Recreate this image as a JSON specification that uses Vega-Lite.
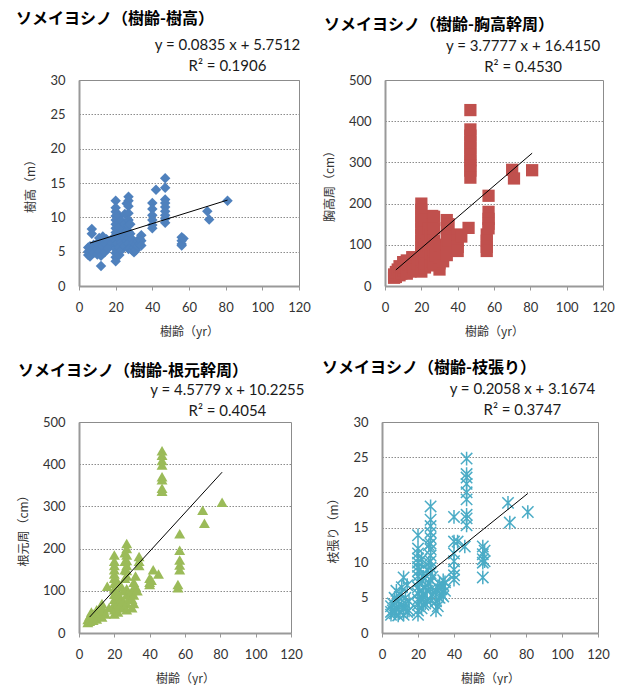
{
  "$schema": "https://vega.github.io/schema/vega-lite/v6.json",
  "padding": {"left": 15, "top": 10, "right": 0, "bottom": 0},
  "background": "white",
  "spacing": 21,
  "config": {
    "view": {"stroke": "#8c8c8c", "strokeWidth": 1},
    "title": {"font": "Noto Sans CJK JP", "fontSize": 16, "fontWeight": "bold", "color": "#000000", "anchor": "start", "frame": "group", "offset": 8},
    "axisX": {"domainColor": "#999999", "domainWidth": 2, "tickColor": "#999999", "tickSize": 4, "labelPadding": 11, "grid": false, "values": [0, 20, 40, 60, 80, 100, 120], "labelFont": "Lato", "labelFontSize": 13, "labelColor": "#333333", "titleFont": "Noto Sans CJK JP", "titleFontSize": 12, "titleFontWeight": "normal", "titlePadding": 12, "titleColor": "#333333", "labelFlush": false, "labelOverlap": false},
    "axisY": {"domainColor": "#999999", "domainWidth": 2, "ticks": false, "labelPadding": 14, "grid": true, "gridColor": "#8c8c8c", "gridDash": [1.5, 1.5], "gridWidth": 1, "labelFont": "Lato", "labelFontSize": 13, "labelColor": "#333333", "titleFont": "Noto Sans CJK JP", "titleFontSize": 12, "titleFontWeight": "normal", "titlePadding": 12, "titleColor": "#333333", "labelFlush": false, "labelOverlap": false}
  },
  "datasets": {
    "d_height": [
      {"age": 5, "v": 4.5}, {"age": 5, "v": 5.0}, {"age": 5, "v": 5.6}, {"age": 6, "v": 4.3}, {"age": 6, "v": 5.8}, {"age": 7, "v": 5.2}, {"age": 7, "v": 8.3}, {"age": 7, "v": 7.6}, {"age": 8, "v": 4.8}, {"age": 8, "v": 6.0}, {"age": 9, "v": 5.5}, {"age": 10, "v": 4.6}, {"age": 10, "v": 5.4}, {"age": 10, "v": 6.2}, {"age": 11, "v": 5.0}, {"age": 11, "v": 7.0}, {"age": 12, "v": 4.4}, {"age": 12, "v": 6.5}, {"age": 12, "v": 2.9}, {"age": 13, "v": 5.8}, {"age": 13, "v": 7.2}, {"age": 14, "v": 4.9}, {"age": 15, "v": 6.0}, {"age": 15, "v": 6.8}, {"age": 16, "v": 5.5}, {"age": 18, "v": 6.3}, {"age": 19, "v": 7.1},
      {"age": 20, "v": 12.4}, {"age": 20, "v": 11.4}, {"age": 20, "v": 10.8}, {"age": 20, "v": 10.2}, {"age": 20, "v": 9.6}, {"age": 20, "v": 9.0}, {"age": 20, "v": 8.4}, {"age": 20, "v": 7.8}, {"age": 20, "v": 7.2}, {"age": 20, "v": 6.6}, {"age": 20, "v": 6.0}, {"age": 20, "v": 5.4}, {"age": 20, "v": 4.8}, {"age": 20, "v": 4.2}, {"age": 20, "v": 3.6},
      {"age": 21, "v": 9.0}, {"age": 21, "v": 7.5}, {"age": 21, "v": 6.2}, {"age": 21, "v": 5.0},
      {"age": 22, "v": 10.2}, {"age": 22, "v": 8.6}, {"age": 22, "v": 6.9}, {"age": 22, "v": 5.6}, {"age": 22, "v": 4.5},
      {"age": 23, "v": 9.5}, {"age": 23, "v": 7.8}, {"age": 23, "v": 6.3}, {"age": 23, "v": 5.2},
      {"age": 24, "v": 8.2}, {"age": 24, "v": 6.0},
      {"age": 25, "v": 10.5}, {"age": 25, "v": 9.0}, {"age": 25, "v": 7.0}, {"age": 25, "v": 5.8},
      {"age": 26, "v": 12.0}, {"age": 26, "v": 8.0}, {"age": 26, "v": 6.5},
      {"age": 27, "v": 13.0}, {"age": 27, "v": 12.4}, {"age": 27, "v": 11.6}, {"age": 27, "v": 10.6}, {"age": 27, "v": 9.6}, {"age": 27, "v": 8.8}, {"age": 27, "v": 7.9}, {"age": 27, "v": 7.0}, {"age": 27, "v": 6.2}, {"age": 27, "v": 5.4},
      {"age": 28, "v": 9.0}, {"age": 28, "v": 7.6}, {"age": 28, "v": 5.5},
      {"age": 29, "v": 6.8}, {"age": 29, "v": 5.2},
      {"age": 30, "v": 4.9}, {"age": 30, "v": 5.6}, {"age": 30, "v": 6.3},
      {"age": 31, "v": 5.2}, {"age": 31, "v": 6.0},
      {"age": 32, "v": 6.5}, {"age": 32, "v": 5.8},
      {"age": 33, "v": 6.9}, {"age": 33, "v": 6.1},
      {"age": 34, "v": 7.4}, {"age": 34, "v": 6.6}, {"age": 34, "v": 5.9},
      {"age": 40, "v": 12.1}, {"age": 40, "v": 11.2}, {"age": 40, "v": 10.3}, {"age": 40, "v": 9.6}, {"age": 40, "v": 8.9}, {"age": 40, "v": 8.4},
      {"age": 42, "v": 14.0},
      {"age": 47, "v": 15.7}, {"age": 47, "v": 14.3}, {"age": 47, "v": 12.6}, {"age": 47, "v": 12.1}, {"age": 47, "v": 11.5}, {"age": 47, "v": 10.9}, {"age": 47, "v": 10.3}, {"age": 47, "v": 9.8}, {"age": 47, "v": 9.2},
      {"age": 56, "v": 7.1}, {"age": 56, "v": 6.6}, {"age": 56, "v": 6.1}, {"age": 56, "v": 5.9}, {"age": 57, "v": 6.9},
      {"age": 70, "v": 10.9}, {"age": 71, "v": 9.7}, {"age": 81, "v": 12.4}
    ],
    "d_height_fit": [{"age": 6, "v": 6.2522}, {"age": 81, "v": 12.5147}],
    "d_chest": [
      {"age": 5, "v": 20}, {"age": 5, "v": 28}, {"age": 6, "v": 22}, {"age": 6, "v": 34}, {"age": 7, "v": 40}, {"age": 8, "v": 26}, {"age": 8, "v": 48}, {"age": 9, "v": 30}, {"age": 10, "v": 38}, {"age": 10, "v": 58}, {"age": 11, "v": 45}, {"age": 12, "v": 30}, {"age": 12, "v": 62}, {"age": 13, "v": 52}, {"age": 14, "v": 35}, {"age": 15, "v": 70}, {"age": 15, "v": 48}, {"age": 16, "v": 40}, {"age": 18, "v": 55},
      {"age": 20, "v": 200}, {"age": 20, "v": 185}, {"age": 20, "v": 170}, {"age": 20, "v": 155}, {"age": 20, "v": 140}, {"age": 20, "v": 125}, {"age": 20, "v": 110}, {"age": 20, "v": 95}, {"age": 20, "v": 80}, {"age": 20, "v": 65}, {"age": 20, "v": 50}, {"age": 20, "v": 35},
      {"age": 21, "v": 120}, {"age": 21, "v": 90}, {"age": 21, "v": 60},
      {"age": 22, "v": 160}, {"age": 22, "v": 130}, {"age": 22, "v": 100}, {"age": 22, "v": 70}, {"age": 22, "v": 45},
      {"age": 23, "v": 110}, {"age": 23, "v": 80}, {"age": 23, "v": 55},
      {"age": 24, "v": 140}, {"age": 24, "v": 95},
      {"age": 25, "v": 125}, {"age": 25, "v": 75}, {"age": 25, "v": 50},
      {"age": 26, "v": 170}, {"age": 26, "v": 150}, {"age": 26, "v": 120}, {"age": 26, "v": 90}, {"age": 26, "v": 60},
      {"age": 27, "v": 168}, {"age": 27, "v": 140}, {"age": 27, "v": 110}, {"age": 27, "v": 85}, {"age": 27, "v": 55},
      {"age": 28, "v": 100}, {"age": 28, "v": 75},
      {"age": 30, "v": 40}, {"age": 30, "v": 55}, {"age": 30, "v": 70},
      {"age": 32, "v": 60}, {"age": 32, "v": 80}, {"age": 32, "v": 95},
      {"age": 34, "v": 160}, {"age": 34, "v": 140}, {"age": 34, "v": 120}, {"age": 34, "v": 100}, {"age": 34, "v": 75},
      {"age": 35, "v": 150}, {"age": 35, "v": 110},
      {"age": 40, "v": 125}, {"age": 40, "v": 110}, {"age": 40, "v": 95}, {"age": 40, "v": 85},
      {"age": 42, "v": 120}, {"age": 46, "v": 141},
      {"age": 47, "v": 427}, {"age": 47, "v": 380}, {"age": 47, "v": 365}, {"age": 47, "v": 350}, {"age": 47, "v": 335}, {"age": 47, "v": 320}, {"age": 47, "v": 305}, {"age": 47, "v": 292}, {"age": 47, "v": 280}, {"age": 47, "v": 263},
      {"age": 56, "v": 125}, {"age": 56, "v": 110}, {"age": 56, "v": 95}, {"age": 56, "v": 85},
      {"age": 57, "v": 219}, {"age": 57, "v": 180}, {"age": 57, "v": 163}, {"age": 57, "v": 151}, {"age": 57, "v": 140},
      {"age": 70, "v": 282}, {"age": 71, "v": 261}, {"age": 81, "v": 281}
    ],
    "d_chest_fit": [{"age": 6, "v": 39.081}, {"age": 81, "v": 322.409}],
    "d_root": [
      {"age": 5, "v": 25}, {"age": 5, "v": 32}, {"age": 6, "v": 28}, {"age": 6, "v": 40}, {"age": 7, "v": 35}, {"age": 7, "v": 50}, {"age": 8, "v": 30}, {"age": 8, "v": 45}, {"age": 9, "v": 38}, {"age": 10, "v": 33}, {"age": 10, "v": 55}, {"age": 11, "v": 42}, {"age": 12, "v": 60}, {"age": 12, "v": 48}, {"age": 13, "v": 70}, {"age": 13, "v": 38}, {"age": 14, "v": 55}, {"age": 15, "v": 45}, {"age": 16, "v": 111}, {"age": 17, "v": 60},
      {"age": 20, "v": 185}, {"age": 20, "v": 170}, {"age": 20, "v": 160}, {"age": 20, "v": 150}, {"age": 20, "v": 140}, {"age": 20, "v": 130}, {"age": 20, "v": 118}, {"age": 20, "v": 105}, {"age": 20, "v": 92}, {"age": 20, "v": 80}, {"age": 20, "v": 68}, {"age": 20, "v": 55}, {"age": 20, "v": 45},
      {"age": 21, "v": 100}, {"age": 21, "v": 75}, {"age": 21, "v": 60},
      {"age": 22, "v": 120}, {"age": 22, "v": 90}, {"age": 22, "v": 70}, {"age": 22, "v": 50},
      {"age": 23, "v": 85}, {"age": 23, "v": 65},
      {"age": 24, "v": 110}, {"age": 24, "v": 80},
      {"age": 25, "v": 100}, {"age": 25, "v": 75}, {"age": 25, "v": 60},
      {"age": 26, "v": 190}, {"age": 26, "v": 170}, {"age": 26, "v": 150}, {"age": 26, "v": 130},
      {"age": 27, "v": 212}, {"age": 27, "v": 200}, {"age": 27, "v": 185}, {"age": 27, "v": 172}, {"age": 27, "v": 160}, {"age": 27, "v": 148}, {"age": 27, "v": 135}, {"age": 27, "v": 105}, {"age": 27, "v": 90}, {"age": 27, "v": 70}, {"age": 27, "v": 55},
      {"age": 28, "v": 95}, {"age": 28, "v": 80},
      {"age": 30, "v": 60}, {"age": 30, "v": 80}, {"age": 30, "v": 100},
      {"age": 31, "v": 70}, {"age": 31, "v": 90}, {"age": 31, "v": 120},
      {"age": 32, "v": 135}, {"age": 32, "v": 110}, {"age": 33, "v": 100},
      {"age": 34, "v": 181}, {"age": 34, "v": 170}, {"age": 34, "v": 160},
      {"age": 40, "v": 130}, {"age": 40, "v": 120}, {"age": 40, "v": 115}, {"age": 41, "v": 125},
      {"age": 42, "v": 150}, {"age": 45, "v": 140},
      {"age": 47, "v": 432}, {"age": 47, "v": 421}, {"age": 47, "v": 409}, {"age": 47, "v": 398}, {"age": 47, "v": 370}, {"age": 47, "v": 363}, {"age": 47, "v": 343}, {"age": 47, "v": 336},
      {"age": 56, "v": 115}, {"age": 56, "v": 107},
      {"age": 57, "v": 235}, {"age": 57, "v": 196}, {"age": 57, "v": 173}, {"age": 57, "v": 161}, {"age": 57, "v": 150},
      {"age": 70, "v": 291}, {"age": 71, "v": 260}, {"age": 81, "v": 310}
    ],
    "d_root_fit": [{"age": 6, "v": 37.693}, {"age": 81, "v": 381.035}],
    "d_spread": [
      {"age": 5, "v": 3.0}, {"age": 5, "v": 3.8}, {"age": 5, "v": 2.6}, {"age": 6, "v": 4.2}, {"age": 6, "v": 3.2}, {"age": 7, "v": 2.8}, {"age": 7, "v": 5.0}, {"age": 8, "v": 3.5}, {"age": 8, "v": 6.0}, {"age": 9, "v": 4.5}, {"age": 9, "v": 2.5}, {"age": 10, "v": 3.0}, {"age": 10, "v": 5.5}, {"age": 11, "v": 4.0}, {"age": 11, "v": 6.5}, {"age": 12, "v": 7.9}, {"age": 12, "v": 2.6}, {"age": 12, "v": 3.4}, {"age": 13, "v": 5.0}, {"age": 13, "v": 4.2}, {"age": 14, "v": 3.0}, {"age": 14, "v": 6.8}, {"age": 15, "v": 4.5}, {"age": 15, "v": 3.2},
      {"age": 20, "v": 13.9}, {"age": 20, "v": 12.0}, {"age": 20, "v": 11.3}, {"age": 20, "v": 10.6}, {"age": 20, "v": 10.0}, {"age": 20, "v": 9.4}, {"age": 20, "v": 8.8}, {"age": 20, "v": 8.1}, {"age": 20, "v": 7.3}, {"age": 20, "v": 6.5}, {"age": 20, "v": 5.6}, {"age": 20, "v": 4.8}, {"age": 20, "v": 4.0}, {"age": 20, "v": 3.2}, {"age": 20, "v": 2.6},
      {"age": 21, "v": 9.0}, {"age": 21, "v": 6.0}, {"age": 21, "v": 4.5},
      {"age": 22, "v": 10.5}, {"age": 22, "v": 7.5}, {"age": 22, "v": 5.0}, {"age": 22, "v": 3.5},
      {"age": 23, "v": 8.0}, {"age": 23, "v": 5.5}, {"age": 23, "v": 4.0},
      {"age": 24, "v": 6.5}, {"age": 24, "v": 4.2},
      {"age": 25, "v": 9.0}, {"age": 25, "v": 6.0}, {"age": 25, "v": 4.6},
      {"age": 26, "v": 12.5}, {"age": 26, "v": 10.0}, {"age": 26, "v": 7.0},
      {"age": 27, "v": 18.0}, {"age": 27, "v": 16.1}, {"age": 27, "v": 15.2}, {"age": 27, "v": 14.3}, {"age": 27, "v": 13.5}, {"age": 27, "v": 12.7}, {"age": 27, "v": 11.9}, {"age": 27, "v": 11.0}, {"age": 27, "v": 10.2}, {"age": 27, "v": 9.3}, {"age": 27, "v": 8.5}, {"age": 27, "v": 7.5}, {"age": 27, "v": 6.2}, {"age": 27, "v": 4.6},
      {"age": 28, "v": 8.0}, {"age": 28, "v": 5.5},
      {"age": 30, "v": 3.2}, {"age": 30, "v": 4.5}, {"age": 30, "v": 5.8},
      {"age": 31, "v": 3.8}, {"age": 31, "v": 6.5},
      {"age": 32, "v": 5.0}, {"age": 32, "v": 7.0},
      {"age": 33, "v": 5.5}, {"age": 33, "v": 6.2},
      {"age": 34, "v": 7.5}, {"age": 34, "v": 6.8}, {"age": 34, "v": 5.2},
      {"age": 35, "v": 7.2}, {"age": 35, "v": 6.0},
      {"age": 40, "v": 16.5}, {"age": 40, "v": 13.0}, {"age": 40, "v": 11.3}, {"age": 40, "v": 10.2}, {"age": 40, "v": 9.0}, {"age": 40, "v": 8.2}, {"age": 40, "v": 7.6},
      {"age": 42, "v": 13.0}, {"age": 46, "v": 12.3},
      {"age": 47, "v": 24.8}, {"age": 47, "v": 22.6}, {"age": 47, "v": 22.1}, {"age": 47, "v": 21.2}, {"age": 47, "v": 20.0}, {"age": 47, "v": 19.0}, {"age": 47, "v": 16.8}, {"age": 47, "v": 16.3}, {"age": 47, "v": 15.3},
      {"age": 56, "v": 12.3}, {"age": 56, "v": 11.2}, {"age": 56, "v": 10.5}, {"age": 56, "v": 10.0}, {"age": 56, "v": 7.9},
      {"age": 57, "v": 11.7}, {"age": 57, "v": 10.2},
      {"age": 70, "v": 18.5}, {"age": 71, "v": 15.7}, {"age": 81, "v": 17.2}
    ],
    "d_spread_fit": [{"age": 6, "v": 4.402}, {"age": 81, "v": 19.837}]
  },
  "vconcat": [
    {
      "spacing": 11,
      "hconcat": [
        {
          "width": 220, "height": 206,
          "title": {"text": "ソメイヨシノ（樹齢-樹高）", "dx": -63, "offset": 11},
          "layer": [
            {"data": {"name": "d_height"}, "mark": {"type": "point", "shape": "diamond", "filled": true, "size": 110, "color": "#4f81bd", "opacity": 1},
             "encoding": {"x": {"field": "age", "type": "quantitative", "scale": {"domain": [0, 120]}, "title": "樹齢（yr）"},
                          "y": {"field": "v", "type": "quantitative", "scale": {"domain": [0, 30]}, "axis": {"values": [0, 5, 10, 15, 20, 25, 30]}, "title": "樹高（m）"}}},
            {"data": {"name": "d_height_fit"}, "mark": {"type": "line", "color": "#000000", "strokeWidth": 1},
             "encoding": {"x": {"field": "age", "type": "quantitative"}, "y": {"field": "v", "type": "quantitative", "axis": {"values": [0, 5, 10, 15, 20, 25, 30]}}}},
            {"data": {"values": [{}]}, "mark": {"type": "text", "align": "center", "baseline": "bottom", "font": "Lato", "fontSize": 15, "lineHeight": 21, "color": "#1a1a1a"},
             "encoding": {"x": {"datum": 81}, "y": {"datum": 33.86, "axis": {"values": [0, 5, 10, 15, 20, 25, 30]}}, "text": {"value": ["y = 0.0835 x + 5.7512", "R² = 0.1906"]}}}
          ]
        },
        {
          "width": 218, "height": 206,
          "title": {"text": "ソメイヨシノ（樹齢-胸高幹周）", "dx": -61, "offset": 6},
          "layer": [
            {"data": {"name": "d_chest"}, "mark": {"type": "point", "shape": "square", "filled": true, "size": 150, "color": "#c0504d", "opacity": 1},
             "encoding": {"x": {"field": "age", "type": "quantitative", "scale": {"domain": [0, 120]}, "title": "樹齢（yr）"},
                          "y": {"field": "v", "type": "quantitative", "scale": {"domain": [0, 500]}, "axis": {"values": [0, 100, 200, 300, 400, 500]}, "title": "胸高周（cm）"}}},
            {"data": {"name": "d_chest_fit"}, "mark": {"type": "line", "color": "#000000", "strokeWidth": 1},
             "encoding": {"x": {"field": "age", "type": "quantitative"}, "y": {"field": "v", "type": "quantitative", "axis": {"values": [0, 100, 200, 300, 400, 500]}}}},
            {"data": {"values": [{}]}, "mark": {"type": "text", "align": "center", "baseline": "bottom", "font": "Lato", "fontSize": 15, "lineHeight": 21, "color": "#1a1a1a"},
             "encoding": {"x": {"datum": 76}, "y": {"datum": 563, "axis": {"values": [0, 100, 200, 300, 400, 500]}}, "text": {"value": ["y = 3.7777 x + 16.4150", "R² = 0.4530"]}}}
          ]
        }
      ]
    },
    {
      "spacing": 15,
      "hconcat": [
        {
          "width": 212, "height": 211,
          "title": {"text": "ソメイヨシノ（樹齢-根元幹周）", "dx": -61, "offset": 4},
          "layer": [
            {"data": {"name": "d_root"}, "mark": {"type": "point", "shape": "triangle-up", "filled": true, "size": 120, "color": "#9bbb59", "opacity": 1},
             "encoding": {"x": {"field": "age", "type": "quantitative", "scale": {"domain": [0, 120]}, "title": "樹齢（yr）"},
                          "y": {"field": "v", "type": "quantitative", "scale": {"domain": [0, 500]}, "axis": {"values": [0, 100, 200, 300, 400, 500]}, "title": "根元周（cm）"}}},
            {"data": {"name": "d_root_fit"}, "mark": {"type": "line", "color": "#000000", "strokeWidth": 1},
             "encoding": {"x": {"field": "age", "type": "quantitative"}, "y": {"field": "v", "type": "quantitative", "axis": {"values": [0, 100, 200, 300, 400, 500]}}}},
            {"data": {"values": [{}]}, "mark": {"type": "text", "align": "center", "baseline": "bottom", "font": "Lato", "fontSize": 15, "lineHeight": 21, "color": "#1a1a1a"},
             "encoding": {"x": {"datum": 84}, "y": {"datum": 557, "axis": {"values": [0, 100, 200, 300, 400, 500]}}, "text": {"value": ["y = 4.5779 x + 10.2255", "R² = 0.4054"]}}}
          ]
        },
        {
          "width": 216, "height": 211,
          "title": {"text": "ソメイヨシノ（樹齢-枝張り）", "dx": -60, "offset": 6},
          "layer": [
            {"data": {"name": "d_spread"}, "mark": {"type": "point", "shape": "M-1,-1L1,1M-1,1L1,-1M0,-1.2L0,1.2", "filled": false, "size": 130, "color": "#4bacc6", "strokeWidth": 1.5, "opacity": 1},
             "encoding": {"x": {"field": "age", "type": "quantitative", "scale": {"domain": [0, 120]}, "title": "樹齢（yr）"},
                          "y": {"field": "v", "type": "quantitative", "scale": {"domain": [0, 30]}, "axis": {"values": [0, 5, 10, 15, 20, 25, 30]}, "title": "枝張り（m）"}}},
            {"data": {"name": "d_spread_fit"}, "mark": {"type": "line", "color": "#000000", "strokeWidth": 1},
             "encoding": {"x": {"field": "age", "type": "quantitative"}, "y": {"field": "v", "type": "quantitative", "axis": {"values": [0, 5, 10, 15, 20, 25, 30]}}}},
            {"data": {"values": [{}]}, "mark": {"type": "text", "align": "center", "baseline": "bottom", "font": "Lato", "fontSize": 15, "lineHeight": 21, "color": "#1a1a1a"},
             "encoding": {"x": {"datum": 78}, "y": {"datum": 33.5, "axis": {"values": [0, 5, 10, 15, 20, 25, 30]}}, "text": {"value": ["y = 0.2058 x + 3.1674", "R² = 0.3747"]}}}
          ]
        }
      ]
    }
  ]
}
